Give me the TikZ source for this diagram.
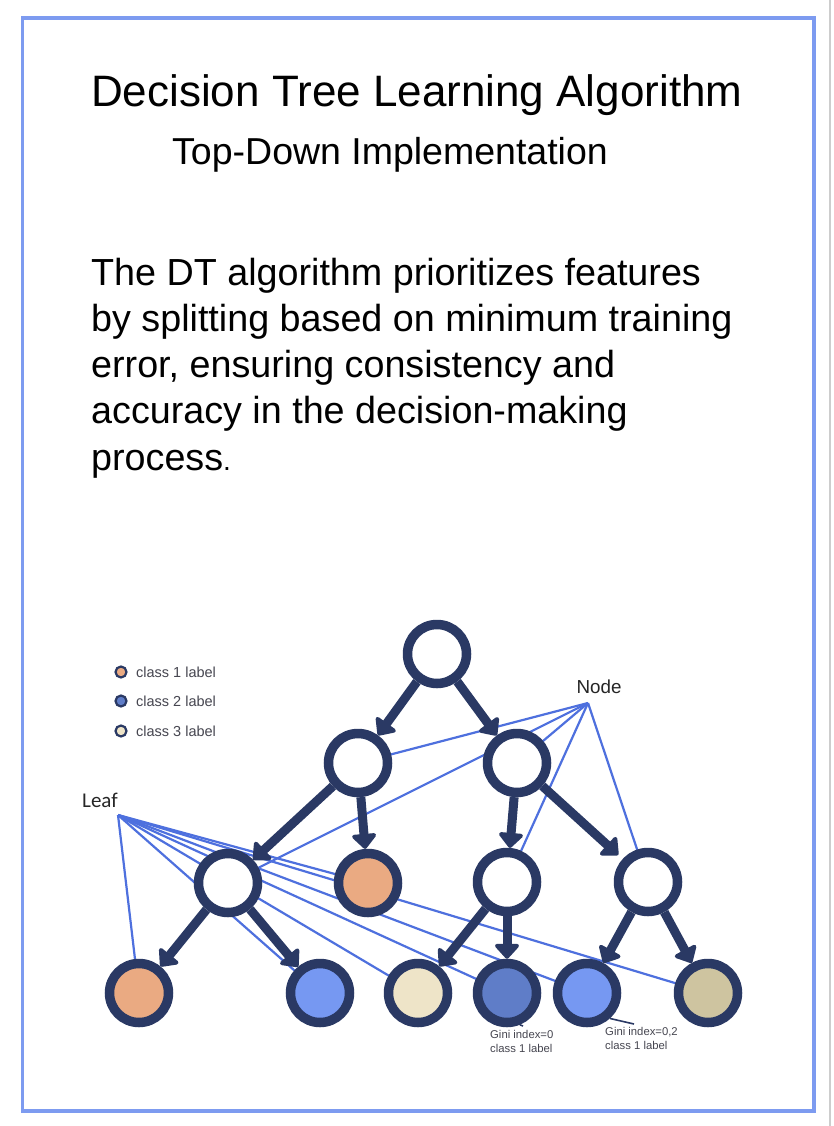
\documentclass[tikz,border=0pt]{standalone}
\usepackage{fontspec}
\setmainfont{Liberation Sans}
\newfontfamily\leaffont{Carlito}
\usetikzlibrary{arrows.meta,backgrounds}
\definecolor{navy}{RGB}{42,57,100}
\definecolor{linkblue}{RGB}{78,112,222}
\definecolor{peach}{RGB}{234,170,130}
\definecolor{lightblue}{RGB}{118,152,242}
\definecolor{midblue}{RGB}{95,125,200}
\definecolor{cream}{RGB}{238,228,200}
\definecolor{tan}{RGB}{206,196,160}
\definecolor{bordercol}{RGB}{125,155,240}
\definecolor{legendgray}{RGB}{70,70,80}
\definecolor{greyline}{RGB}{205,205,205}
\begin{document}
\begin{tikzpicture}[x=1pt,y=-1pt,
  tnode/.style={circle,draw=navy,line width=9.5pt,minimum size=59pt,inner sep=0pt,fill=white},
  tarrow/.style={draw=navy,line width=9pt,-{Triangle[width=28pt,length=16pt,round]}},
  link/.style={draw=linkblue,line width=2.2pt},
  pointer/.style={draw=navy,line width=1.6pt},
  dot/.style={circle,draw=navy,line width=2.2pt,minimum size=11pt,inner sep=0pt},
  legtext/.style={text=legendgray,font=\fontsize{14.5}{16}\selectfont,anchor=west,inner sep=0pt},
  txt/.style={anchor=base west,inner sep=0pt,text=black},
  para/.style={txt,font=\fontsize{37.7}{46}\selectfont},
  gini/.style={anchor=north west,inner sep=0pt,align=left,text=legendgray,font=\fontsize{11.3}{14}\selectfont}]

\useasboundingbox (0,0) rectangle (834,1126);
\begin{pgfonlayer}{background}
\fill[white] (0,0) rectangle (834,1126);
\end{pgfonlayer}
\draw[greyline,line width=2pt] (830,0) -- (830,1126);
\draw[bordercol,line width=3.5pt] (22.5,18) rectangle (814,1111);

% titles
\node[txt,font=\fontsize{44}{50}\selectfont] (title) at (91,107) {Decision Tree Learning Algorithm};
\node[txt,font=\fontsize{37.5}{44}\selectfont] (subtitle) at (172,165) {Top-Down Implementation};

% paragraph
\node[para] (p1) at (91,285) {The DT algorithm prioritizes features};
\node[para] (p2) at (91,331) {by splitting based on minimum training};
\node[para] (p3) at (91,377) {error, ensuring consistency and};
\node[para] (p4) at (91,423) {accuracy in the decision-making};
\node[para] (p5) at (91,470) {process{\fontsize{28}{30}\selectfont.}};

% legend
\node[dot,fill=peach] (d1) at (121,672) {};
\node[dot,fill=midblue] (d2) at (121,701) {};
\node[dot,fill=cream] (d3) at (121,731) {};
\node[legtext] (t1) at (136,672) {class 1 label};
\node[legtext] (t2) at (136,701) {class 2 label};
\node[legtext] (t3) at (136,731) {class 3 label};

% labels
\node[text=black!85,font=\fontsize{18.8}{20}\selectfont,inner sep=0pt] (nodelbl) at (599,687) {Node};
\node[text=black!85,font=\leaffont\fontsize{21}{22}\selectfont,inner sep=0pt] (leaflbl) at (100,800) {Leaf};
\coordinate (np) at (588,703);
\coordinate (lp) at (118,815);

% tree nodes
\node[tnode] (root) at (437,654) {};
\node[tnode] (a) at (358,763) {};
\node[tnode] (b) at (517,763) {};
\node[tnode] (c) at (228,883) {};
\node[tnode,fill=peach] (d) at (368,883) {};
\node[tnode] (e) at (507,882) {};
\node[tnode] (f) at (648,882) {};
\node[tnode,fill=peach] (g1) at (139,993) {};
\node[tnode,fill=lightblue] (g2) at (320,993) {};
\node[tnode,fill=cream] (g3) at (418,993) {};
\node[tnode,fill=midblue] (g4) at (507,993) {};
\node[tnode,fill=lightblue] (g5) at (587,993) {};
\node[tnode,fill=tan] (g6) at (708,993) {};

% thin link lines behind the nodes
\begin{pgfonlayer}{background}
\foreach \t in {a,b,c,e,f} \draw[link] (np) -- (\t.center);
\foreach \t in {g1,g2,d,g3,g4,g5,g6} \draw[link] (lp) -- (\t.center);
\end{pgfonlayer}

% arrows
\draw[tarrow] (root) -- (a);
\draw[tarrow] (root) -- (b);
\draw[tarrow] (a) -- (c);
\draw[tarrow] (a) -- (d);
\draw[tarrow] (b) -- (e);
\draw[tarrow,shorten >=6pt] (b) -- (f);
\draw[tarrow] (c) -- (g1);
\draw[tarrow] (c) -- (g2);
\draw[tarrow] (e) -- (g3);
\draw[tarrow] (e) -- (g4);
\draw[tarrow] (f) -- (g5);
\draw[tarrow] (f) -- (g6);

% gini annotations
\coordinate (p4end) at (523,1026);
\coordinate (p5end) at (634,1024);
\draw[pointer] (g4.-68) -- (p4end);
\draw[pointer] (g5.-48) -- (p5end);
\node[gini] (gini1) at (490,1030) {Gini index=0\\class 1 label};
\node[gini] (gini2) at (605,1027) {Gini index=0,2\\class 1 label};
\end{tikzpicture}
\end{document}
